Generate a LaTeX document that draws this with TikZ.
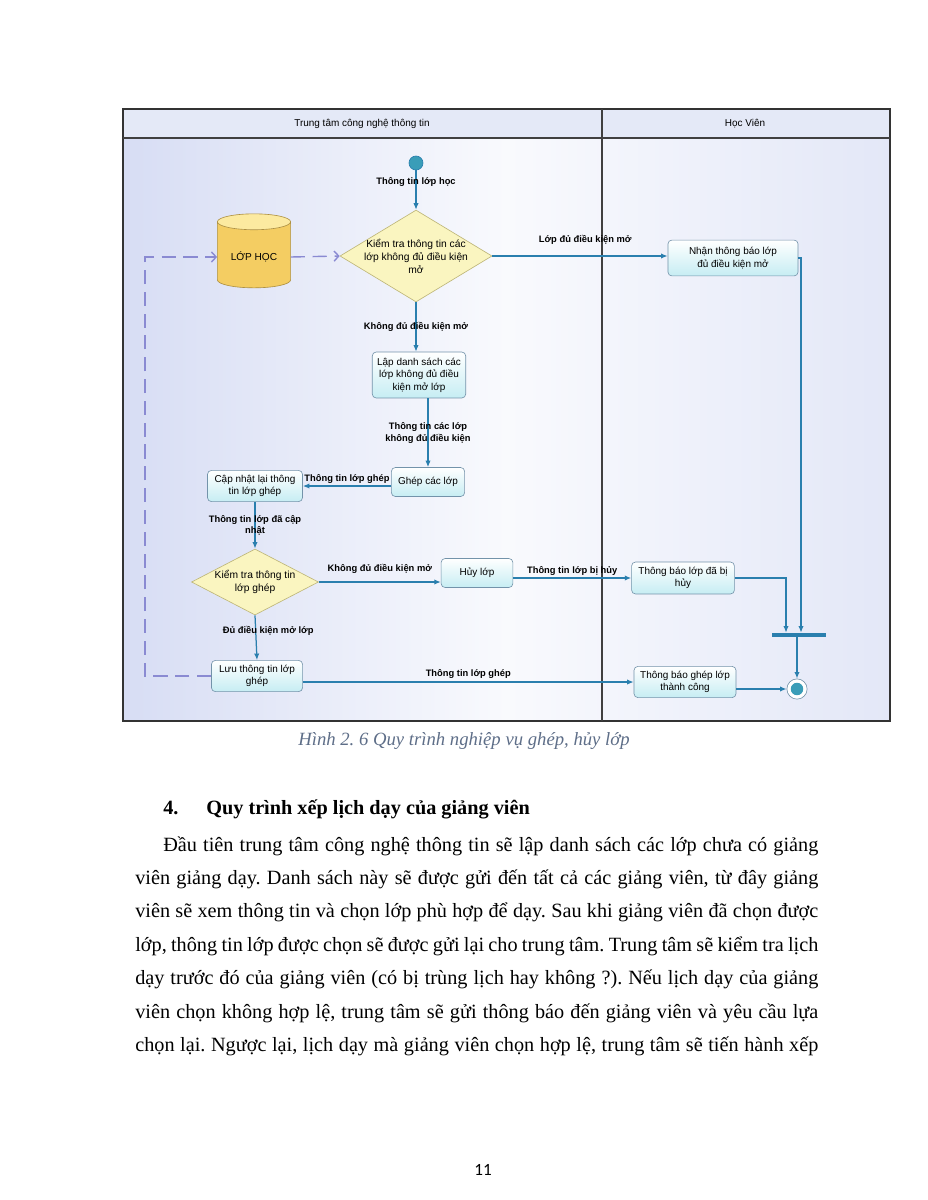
\documentclass[tikz,border=0pt]{standalone}
\usepackage{fontspec}
\setmainfont{Liberation Serif}
\newfontfamily\diagfont{Liberation Sans}
\newfontfamily\pagefont{Carlito}
\usepackage{tikz}
\usetikzlibrary{
  arrows.meta,
  positioning,
  shapes.geometric
}
\frenchspacing
\definecolor{flowblue}{HTML}{2A7FAE}
\definecolor{actborder}{HTML}{7393AA}
\definecolor{actfill}{HTML}{C6EDF3}
\definecolor{decfill}{HTML}{FAF5C0}
\definecolor{decborder}{HTML}{BDB577}
\definecolor{dbtop}{HTML}{FCEAA0}
\definecolor{dbbody}{HTML}{F4CD62}
\definecolor{dbborder}{HTML}{AE9040}
\definecolor{dashcol}{HTML}{8A8AD2}
\definecolor{lanebg}{HTML}{D7DDF4}
\definecolor{headbg}{HTML}{E4E9F7}
\definecolor{captioncol}{HTML}{5E6E88}
\definecolor{startcol}{HTML}{3A9DB8}
\tikzset{
  actbox/.style={
    rectangle, rounded corners=2.5pt, draw=actborder, top color=white,
    bottom color=actfill, align=center, inner sep=1pt,
    font=\diagfont\fontsize{6.4}{8}\selectfont
  },
  decbox/.style={
    diamond, draw=decborder, fill=decfill, align=center, inner sep=0pt,
    font=\diagfont\fontsize{6.6}{8.4}\selectfont
  },
  dbstore/.style={
    cylinder, shape border rotate=90, aspect=0.28, draw=dbborder,
    cylinder uses custom fill, cylinder body fill=dbbody,
    cylinder end fill=dbtop, minimum width=47pt, minimum height=47.5pt,
    font=\diagfont\fontsize{6.5}{8}\selectfont
  },
  flowarrow/.style={
    -{Latex[length=4.2pt,width=3.4pt]}, line width=0.8pt, color=flowblue
  },
  dasharrow/.style={
    -{Straight Barb[length=3pt,width=6.5pt]}, line width=0.9pt,
    color=dashcol, dash pattern=on 9pt off 5pt
  },
  flowlbl/.style={
    font=\diagfont\bfseries\fontsize{6}{7.4}\selectfont, align=center,
    inner sep=1pt, text=black
  },
  lanetitle/.style={
    font=\diagfont\fontsize{6.4}{7.5}\selectfont
  },
  bodyline/.style={
    anchor=base west, inner sep=0pt, font=\fontsize{13}{16}\selectfont
  },
}
\newcommand{\fullline}[1]{\makebox[438.5pt][s]{#1}}

\begin{document}
\begin{tikzpicture}[x=0.642pt, y=-0.642pt]
  \useasboundingbox[fill=white] (0,0) rectangle (927,1200);

  % swimlanes
  \shade[left color=lanebg, right color=lanebg!70, middle color=white!85!lanebg]
    (123,138) rectangle (890,721);
  \fill[headbg] (123,109) rectangle (890,138);
  \draw[line width=0.9pt, black!80] (123,109) rectangle (890,721);
  \draw[line width=0.7pt, black!75] (123,138) -- (890,138);
  \draw[line width=0.7pt, black!75] (602,109) -- (602,721);
  \node[lanetitle] (ttcn) at (362,124) {Trung tâm công nghệ thông tin};
  \node[lanetitle] (hv)   at (745,124) {Học Viên};

  % nodes
  \node[circle, draw=flowblue, fill=startcol, minimum size=9pt, inner sep=0pt] (start) at (416,163) {};
  \node[decbox, aspect=1.65, inner sep=-2.2pt, minimum width=97.6pt, minimum height=59pt] (dec1) at (416,256)
    {Kiểm tra thông tin các\\lớp không đủ điều kiện\\mở};
  \node[dbstore] (db) at (254,257) {LỚP HỌC};
  \node[actbox, minimum width=83.5pt, minimum height=23pt] (nhan) at (733,258)
    {Nhận thông báo lớp\\đủ điều kiện mở};
  \node[actbox, minimum width=60pt, minimum height=29.5pt] (lap) at (419,375)
    {Lập danh sách các\\lớp không đủ điều\\kiện mở lớp};
  \node[actbox, minimum width=47pt, minimum height=18.6pt] (ghep) at (428,482) {Ghép các lớp};
  \node[actbox, minimum width=61pt, minimum height=20pt] (capnhat) at (255,486)
    {Cập nhật lại thông\\tin lớp ghép};
  \node[decbox, aspect=1.92, minimum width=81.5pt, minimum height=42.4pt] (dec2) at (255,582)
    {Kiểm tra thông tin\\lớp ghép};
  \node[actbox, minimum width=46pt, minimum height=18.6pt] (huy) at (477,573) {Hủy lớp};
  \node[actbox, minimum width=66pt, minimum height=20.5pt] (tbhuy) at (683,578)
    {Thông báo lớp đã bị\\hủy};
  \node[actbox, minimum width=58.5pt, minimum height=20pt] (luu) at (257,676)
    {Lưu thông tin lớp\\ghép};
  \node[actbox, minimum width=65.5pt, minimum height=20pt] (tbghep) at (685,682)
    {Thông báo ghép lớp\\thành công};
  \node[rectangle, fill=flowblue, minimum width=35pt, minimum height=2.6pt, inner sep=0pt] (bar) at (799,635) {};
  \node[circle, draw=actborder, fill=white, minimum size=13pt, inner sep=0pt] (fin) at (797,689) {};
  \fill[startcol] (fin.center) circle (4pt);

  % connectors
  \draw[flowarrow] (start) -- (dec1.north)
    node[flowlbl, pos=0.3] {Thông tin lớp học};
  \draw[dasharrow] (db.east) -- (dec1.west);
  \draw[dasharrow] (luu.west) -- ++(-66,0) |- (db.west);
  \draw[flowarrow] (dec1.east) -- (dec1.east -| nhan.west)
    node[flowlbl, pos=0.53, above=6pt] {Lớp đủ điều kiện mở};
  \draw[flowarrow] (nhan.east) -| (801,0 |- bar.north);
  \draw[flowarrow] (dec1.south) -- (dec1.south |- lap.north)
    node[flowlbl, midway] {Không đủ điều kiện mở};
  \draw[flowarrow] (ghep.north |- lap.south) -- (ghep.north)
    node[flowlbl, midway] {Thông tin các lớp\\không đủ điều kiện};
  \draw[flowarrow] (ghep.west |- capnhat) -- (capnhat.east)
    node[flowlbl, midway, above=0.5pt] {Thông tin lớp ghép};
  \draw[flowarrow] (capnhat.south) -- (dec2.north)
    node[flowlbl, midway] {Thông tin lớp đã cập\\nhật};
  \draw[flowarrow] (dec2.east) -- (dec2.east -| huy.west)
    node[flowlbl, midway, above=4pt] {Không đủ điều kiện mở};
  \draw[flowarrow] (huy.east |- tbhuy) -- (tbhuy.west)
    node[flowlbl, midway, above=0.5pt] {Thông tin lớp bị hủy};
  \draw[flowarrow] (tbhuy.east) -| (786,0 |- bar.north);
  \draw[flowarrow] (dec2.south) -- (luu.north)
    node[flowlbl, pos=0.35, xshift=8pt] {Đủ điều kiện mở lớp};
  \draw[flowarrow] (luu.east |- tbghep) -- (tbghep.west)
    node[flowlbl, midway, above=1pt] {Thông tin lớp ghép};
  \draw[flowarrow] (fin |- bar.south) -- (fin.north);
  \draw[flowarrow] (tbghep.east |- fin) -- (fin.west);

  % caption and page text
  \node[anchor=base, font=\itshape\fontsize{12}{14}\selectfont, text=captioncol] (caption) at (464,745)
    {Hình 2. 6 Quy trình nghiệp vụ ghép, hủy lớp};
  \node[bodyline, font=\bfseries\fontsize{13}{16}\selectfont] (headno) at (163,814) {4.};
  \node[bodyline, font=\bfseries\fontsize{13}{16}\selectfont] (headtxt) at (206,814) {Quy trình xếp lịch dạy của giảng viên};
  \node[bodyline] (l1) at (163,851) {\makebox[420.5pt][s]{Đầu tiên trung tâm công nghệ thông tin sẽ lập danh sách các lớp chưa có giảng}};
  \node[bodyline] (l2) at (135,884.4) {\fullline{viên giảng dạy. Danh sách này sẽ được gửi đến tất cả các giảng viên, từ đây giảng}};
  \node[bodyline] (l3) at (135,917.8) {\fullline{viên sẽ xem thông tin và chọn lớp phù hợp để dạy. Sau khi giảng viên đã chọn được}};
  \node[bodyline] (l4) at (135,951.2) {\fullline{lớp, thông tin lớp được chọn sẽ được gửi lại cho trung tâm. Trung tâm sẽ kiểm tra lịch}};
  \node[bodyline] (l5) at (135,984.6) {\fullline{dạy trước đó của giảng viên (có bị trùng lịch hay không ?). Nếu lịch dạy của giảng}};
  \node[bodyline] (l6) at (135,1018) {\fullline{viên chọn không hợp lệ, trung tâm sẽ gửi thông báo đến giảng viên và yêu cầu lựa}};
  \node[bodyline] (l7) at (135,1051.4) {\fullline{chọn lại. Ngược lại, lịch dạy mà giảng viên chọn hợp lệ, trung tâm sẽ tiến hành xếp}};
  \node[anchor=base, font=\pagefont\fontsize{11}{13}\selectfont] (pageno) at (483,1175) {11};
\end{tikzpicture}
\end{document}
